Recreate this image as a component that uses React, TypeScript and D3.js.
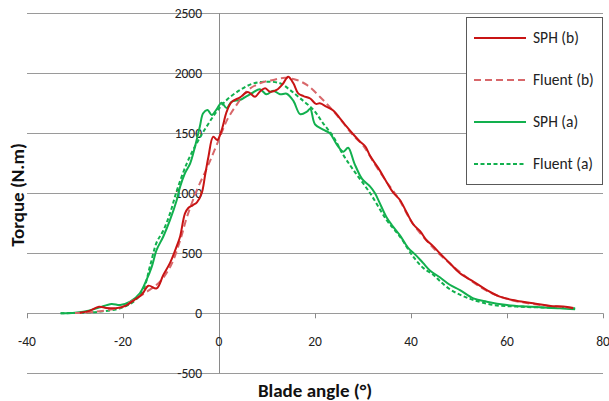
import React from "react";
import * as d3 from "d3";

// ---- data ----
const xTicks = [-40, -20, 0, 20, 40, 60, 80];
const yTicks = [-500, 0, 500, 1000, 1500, 2000, 2500];

const sphBX = [-29, -27, -25, -23.5, -21.5, -19.5, -17.5, -16, -14.7, -13, -11.6, -10.2, -8.8, -8.1, -7.1, -6.4, -5.5, -4.6, -3.6, -2.9, -2.2, -1.2, -0.35, 0.55, 1.6, 2.6, 4.4, 6, 7.5, 8.5, 9.6, 10.6, 12, 13.4, 14.4, 15.5, 16.5, 17.6, 19, 20.2, 21, 22.4, 23.8, 25.2, 26.6, 28, 29.4, 30.5, 31.5, 33.2, 34.9, 36.3, 37.7, 39.1, 40.5, 41.9, 43.2, 44.6, 46, 48.1, 50.2, 53, 55.8, 58.5, 62, 65.5, 69, 71.7, 73.8];
const sphBY = [5, 20, 55, 45, 42, 62, 115, 160, 230, 208, 320, 420, 560, 640, 830, 877, 900, 925, 1002, 1150, 1305, 1472, 1444, 1527, 1680, 1760, 1800, 1845, 1805, 1847, 1875, 1847, 1861, 1917, 1972, 1917, 1833, 1810, 1790, 1745, 1750, 1722, 1690, 1625, 1555, 1490, 1430, 1390, 1310, 1210, 1095, 1005, 944, 840, 740, 685, 611, 560, 500, 417, 333, 264, 194, 139, 105, 83, 61, 56, 42];

const fluentBX = [-30, -26, -22, -20, -17.8, -15, -12.3, -10, -8, -6.7, -4.6, -2.4, -0.3, 1.8, 3.8, 5.8, 8.5, 11.3, 13.8, 16.2, 18.3, 21, 23.5, 26, 28, 30, 32.5, 35, 37.5, 40, 42.5, 45, 47.5, 50, 55, 60, 65, 70, 74];
const fluentBY = [2, 12, 35, 55, 111, 180, 264, 400, 620, 800, 1027, 1220, 1420, 1620, 1745, 1852, 1917, 1945, 1962, 1944, 1903, 1805, 1700, 1580, 1480, 1400, 1240, 1090, 950, 770, 640, 530, 435, 350, 205, 120, 80, 58, 45];

const sphAX = [-33, -30, -28.3, -26, -24.8, -22.4, -20.6, -18.5, -16.5, -15.1, -14, -13, -11.6, -10.2, -8.8, -8.1, -7.1, -6, -5, -4, -3.3, -2.4, -1.5, -0.5, 0.55, 1.6, 2.6, 4.4, 5.8, 7.1, 8.5, 9.9, 11.3, 12.7, 14.1, 15.5, 16.9, 18.3, 19, 20, 21.7, 23.1, 24.5, 25.9, 26.9, 28.2, 29.8, 31.5, 32.5, 33.3, 34.9, 36, 37.7, 39.4, 41, 42.5, 44, 46, 48, 50.2, 53, 55.8, 60, 64.1, 66.9, 71, 74.2];
const sphAY = [0, 5, 14, 35, 50, 78, 69, 97, 167, 278, 389, 528, 640, 778, 944, 1055, 1167, 1250, 1389, 1555, 1667, 1694, 1652, 1700, 1755, 1710, 1763, 1778, 1810, 1840, 1868, 1825, 1855, 1825, 1830, 1770, 1660, 1680, 1705, 1575, 1530, 1500, 1410, 1347, 1380, 1250, 1120, 1055, 1000, 935, 800, 736, 650, 545, 485, 420, 355, 300, 240, 194, 125, 97, 69, 56, 50, 42, 33];

const fluentAX = [-33, -28, -24.8, -20.6, -17.8, -15.8, -14.4, -13, -11.6, -10.2, -8.8, -6.7, -4.6, -2.6, -0.5, 1.6, 4.4, 7.1, 9.9, 12.7, 14.8, 16.9, 19.7, 21.7, 23.8, 25.9, 28, 31.5, 34.9, 37.7, 40.5, 42.5, 44.7, 46, 48.1, 50.5, 53, 57.2, 62, 69, 74.2];
const fluentAY = [0, 5, 14, 42, 97, 194, 389, 590, 690, 833, 1020, 1250, 1420, 1555, 1680, 1778, 1861, 1915, 1930, 1917, 1861, 1792, 1694, 1583, 1472, 1319, 1194, 1000, 778, 639, 470, 380, 319, 270, 200, 150, 111, 69, 56, 47, 42];

const seriesNames = ["SPH (b)", "Fluent (b)", "SPH (a)", "Fluent (a)"];
const seriesColors = ["#C81414", "#D8676A", "#12B04E", "#12B04E"];
const seriesDash = ["", "7,4", "", "4,2.5"];

const W = 609;
const H = 401;
const FONT = "Carlito, Calibri, Lato, sans-serif";

export default function App() {
  const x = d3.scaleLinear().domain([-40, 80]).range([27, 603]);
  const y = d3.scaleLinear().domain([-500, 2500]).range([373.3, 13.3]);

  const series = [
    { xs: sphBX, ys: sphBY },
    { xs: fluentBX, ys: fluentBY },
    { xs: sphAX, ys: sphAY },
    { xs: fluentAX, ys: fluentAY },
  ];

  const line = d3
    .line<[number, number]>()
    .x((d) => x(d[0]))
    .y((d) => y(d[1]))
    .curve(d3.curveCatmullRom.alpha(0.5));

  const order = [3, 2, 1, 0];
  const legendY = [38, 80, 122, 164];

  return (
    <svg
      width={W}
      height={H}
      style={{ position: "absolute", left: 0, top: 0, background: "#fff" }}
      fontFamily={FONT}
    >
      <rect x={0} y={0} width={W} height={H} fill="#fff" />
      {yTicks.map((t) => (
        <line
          key={"g" + t}
          x1={x(-40)}
          x2={x(80)}
          y1={Math.round(y(t)) + 0.5}
          y2={Math.round(y(t)) + 0.5}
          stroke="#9a9a9a"
          strokeWidth={1}
        />
      ))}
      <line
        x1={Math.round(x(0)) + 0.5}
        x2={Math.round(x(0)) + 0.5}
        y1={y(2500)}
        y2={y(-500)}
        stroke="#8a8a8a"
        strokeWidth={1}
      />
      {xTicks.map((t) => (
        <line
          key={"xt" + t}
          x1={Math.round(x(t)) + 0.5}
          x2={Math.round(x(t)) + 0.5}
          y1={y(0)}
          y2={y(0) + 5}
          stroke="#8a8a8a"
          strokeWidth={1}
        />
      ))}
      {yTicks.map((t) => (
        <text
          key={"yl" + t}
          x={202}
          y={y(t)}
          dy="0.35em"
          textAnchor="end"
          fontSize={13.5}
          fill="#222"
        >
          {t}
        </text>
      ))}
      {xTicks.map((t) => (
        <text
          key={"xl" + t}
          x={x(t)}
          y={341}
          dy="0.35em"
          textAnchor="middle"
          fontSize={13.5}
          fill="#222"
        >
          {t}
        </text>
      ))}
      {order.map((i) => {
        const pts: [number, number][] = series[i].xs.map((v, k) => [v, series[i].ys[k]]);
        return (
          <path
            key={"s" + i}
            d={line(pts) || ""}
            fill="none"
            stroke={seriesColors[i]}
            strokeWidth={2}
            strokeDasharray={seriesDash[i] || undefined}
            strokeLinejoin="round"
          />
        );
      })}
      <rect x={466.5} y={17.5} width={136} height={167} fill="#fff" stroke="#595959" strokeWidth={1} />
      {seriesNames.map((n, i) => (
        <g key={"lg" + i}>
          <line
            x1={474}
            x2={526}
            y1={legendY[i]}
            y2={legendY[i]}
            stroke={seriesColors[i]}
            strokeWidth={2}
            strokeDasharray={seriesDash[i] || undefined}
          />
          <text x={533} y={legendY[i]} dy="0.35em" fontSize={15.5} fill="#222">
            {n}
          </text>
        </g>
      ))}
      <text
        x={315}
        y={390}
        dy="0.35em"
        textAnchor="middle"
        fontSize={19}
        fontWeight="bold"
        fill="#111"
      >
        Blade angle (°)
      </text>
      <text
        transform={`translate(17,195) rotate(-90)`}
        dy="0.35em"
        textAnchor="middle"
        fontSize={19}
        fontWeight="bold"
        fill="#111"
      >
        Torque (N.m)
      </text>
    </svg>
  );
}
